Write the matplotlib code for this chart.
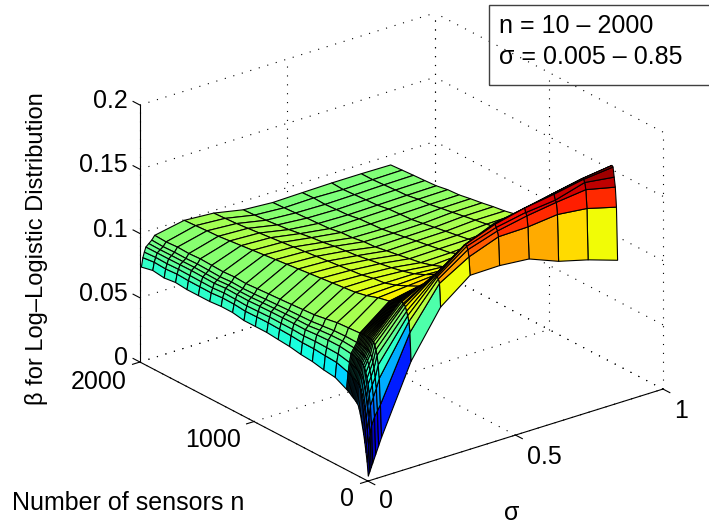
import numpy as np
import matplotlib
matplotlib.use("Agg")
import matplotlib.pyplot as plt
from mpl_toolkits.mplot3d import proj3d

plt.rcParams['font.family'] = ['Liberation Sans', 'DejaVu Sans']

sigma = [0.005, 0.01, 0.015, 0.02, 0.03, 0.04, 0.05, 0.15, 0.25, 0.35, 0.45, 0.55, 0.65, 0.75, 0.85]
n_vals = [10, 20, 30, 40, 50, 60, 70, 80, 90, 100, 110, 120, 130, 140, 150, 160, 170, 180, 190, 200,
          300, 400, 500, 600, 700, 800, 900, 1000, 1100, 1200, 1300, 1400, 1500, 1600, 1700, 1800, 1900, 2000]

# beta x 1000, one row per n, one column per sigma
beta = [
    [3, 6, 9, 12, 18, 24, 30, 82, 117, 134.6, 135, 133, 124, 118, 110.5],
    [13.5, 27, 34, 41, 47, 51, 55, 104, 135, 148.5, 157, 157.5, 160, 157.5, 151.4],
    [20.5, 38, 48, 56, 62, 68, 75, 112, 138, 153.6, 161, 165.6, 169, 171.7, 166.5],
    [27.5, 46, 56, 65, 71, 76, 85, 116, 139, 155.7, 163.2, 167.7, 170.2, 176.8, 173.8],
    [33.5, 52, 62, 72, 77, 83, 92, 119, 139, 156.7, 165.3, 170.7, 174.3, 178.8, 181.2],
    [38.5, 57, 67, 76, 81.5, 87, 96, 122, 139.1, 155.9, 165.4, 169.8, 174.4, 179, 182],
    [43.5, 61, 71, 80, 85, 90, 99, 123.5, 138.2, 154.1, 163.5, 167.9, 173.5, 178, 181],
    [48, 65, 74.5, 83, 88, 92.5, 101, 123.6, 137.3, 152.2, 160.6, 166, 171.6, 176.1, 179],
    [51.5, 67.5, 76.5, 84.5, 89, 93.5, 101.6, 124.7, 136.5, 149.4, 157.7, 163.1, 168.7, 173.2, 177],
    [54.4, 69.6, 78, 85.8, 90, 94.4, 102, 124.8, 134.6, 146.5, 153.8, 159.2, 165.8, 170.3, 174],
    [55.3, 70.3, 78.8, 86.3, 90.5, 94.7, 102.2, 124, 133, 143.7, 150.7, 156, 162.2, 166.6, 170],
    [56.2, 71, 79.3, 86.6, 90.8, 95, 102.3, 123.4, 131.6, 141.2, 148, 153.1, 159.1, 163.3, 166.7],
    [57, 71.5, 79.7, 87, 91.1, 95.2, 102.4, 122.7, 130.3, 139, 145.5, 150.5, 156.2, 160.3, 163.5],
    [57.7, 72, 80, 87.2, 91.2, 95.3, 102.4, 122.2, 129.1, 137.1, 143.4, 148.3, 153.8, 157.7, 160.8],
    [58.4, 72.5, 80.5, 87.5, 91.5, 95.5, 102.5, 121.7, 128.1, 135.3, 141.5, 146.3, 151.6, 155.4, 158.4],
    [59.2, 73, 80.9, 87.8, 91.7, 95.6, 102.5, 121.3, 127.2, 133.7, 139.8, 144.5, 149.6, 153.3, 156.2],
    [60, 73.6, 81.2, 88, 91.9, 95.7, 102.5, 120.9, 126.4, 132.3, 138.2, 142.8, 147.8, 151.4, 154.2],
    [60.6, 74, 81.5, 88.2, 92, 95.7, 102.4, 120.6, 125.7, 131.1, 136.9, 141.4, 146.3, 149.8, 152.5],
    [61.2, 74.4, 81.8, 88.4, 92.1, 95.8, 102.4, 120.3, 125.1, 130.1, 135.8, 140.2, 144.9, 148.4, 151],
    [61.7, 74.7, 82, 88.5, 92.2, 95.8, 102.3, 120, 124.5, 129, 134.6, 139, 143.6, 147, 149.6],
    [66.4, 77.7, 84, 89.7, 92.9, 96, 101.7, 118, 120, 122, 122.6, 126.1, 129.5, 132, 135],
    [67.6, 78.3, 84.3, 89.7, 92.7, 95.7, 101.1, 115, 116, 117, 116, 118.5, 120.9, 123.4, 125],
    [69.5, 79.1, 84.5, 89.3, 92, 94.7, 99.5, 113, 113, 113, 111.4, 112.9, 114.3, 116.8, 118.5],
    [70.3, 79.2, 84.1, 88.6, 91, 93.6, 98, 112, 112, 110.5, 107.9, 109.4, 109.8, 112.3, 114],
    [71.9, 80, 84.6, 88.7, 91, 93.3, 97.4, 111, 110, 108.5, 105.3, 105.8, 107.2, 108.7, 110],
    [72.7, 80.4, 84.7, 88.6, 90.8, 93, 96.8, 110, 109, 107, 103.7, 104.2, 104.6, 106.1, 107.6],
    [73.6, 80.8, 84.9, 88.5, 90.5, 92.6, 96.2, 109, 108, 105.5, 102.1, 102.6, 103, 104.5, 105],
    [73.6, 80.7, 84.6, 88.2, 90.2, 92.2, 95.7, 108, 107, 104, 100.6, 101.1, 101.5, 103, 103],
    [73.6, 80.5, 84.3, 87.8, 89.7, 91.7, 95.1, 107, 106, 103, 99, 99.5, 99.9, 101.4, 101.7],
    [75.2, 81.4, 84.8, 88, 89.7, 91.4, 94.5, 106, 105, 102, 98.4, 97.9, 98.3, 99.8, 100],
    [75.3, 81.6, 85.1, 88.3, 90, 91.8, 95, 105, 104, 100.5, 96.9, 96.4, 96.8, 98.3, 98.6],
    [74.5, 80.9, 84.4, 87.6, 89.4, 91.2, 94.4, 104, 103, 99.5, 96.3, 95.8, 96.2, 96.7, 97],
    [74.5, 81, 84.6, 87.9, 89.7, 91.6, 94.8, 103, 102, 98, 94.7, 95.2, 95.6, 96.1, 96.4],
    [74.5, 81.1, 84.8, 88.2, 90, 91.9, 95.2, 102, 101, 96.5, 94.1, 93.6, 94, 94.5, 94.8],
    [75.4, 81.6, 85, 88.1, 89.9, 91.6, 94.7, 101, 100, 95.5, 93.6, 93.1, 93.5, 94, 94.2],
    [74.3, 81, 84.7, 88, 89.9, 91.8, 95.1, 100.6, 99.1, 94.5, 93, 92.5, 92.9, 93.4, 93.7],
    [75.5, 81.6, 85, 88, 89.8, 91.5, 94.5, 100, 98.5, 93.9, 92.4, 92.9, 92.3, 92.8, 93.1],
    [73.5, 80.5, 84.5, 88, 90, 92, 95, 99.5, 98, 93.4, 91.9, 92.4, 92.8, 92.8, 92.5],
]

sigma_ticks = [0, 0.5, 1]
n_ticks = [0, 1000, 2000]
z_ticks = [0, 0.05, 0.1, 0.15, 0.2]
z_labels = ['0', '0.05', '0.1', '0.15', '0.2']

X, Y = np.meshgrid(sigma, n_vals)
Z = np.array(beta) / 1000

fig = plt.figure(figsize=(7.09, 5.25), dpi=100)
W, H = 709.0, 525.0
ax = fig.add_axes([42 / W, -81.5 / H, 700 / W, 700 / H], projection='3d')
ax.set_proj_type('ortho')
ax.view_init(elev=23.8, azim=-127.7)
ax.set_box_aspect((372.9, 372.9, 280.9), zoom=0.8286)
ax.set_xlim(0, 1)
ax.set_ylim(0, 2000)
ax.set_zlim(0, 0.2)
ax.set_axis_off()
ax.computed_zorder = False

dots = dict(color='k', lw=0.8, ls=(0, (1, 7)), zorder=1)
solid = dict(color='k', lw=0.8, zorder=3)

# dotted grid on the floor and the two back walls
for s in sigma_ticks:
    ax.plot([s, s], [0, 2000], [0, 0], **dots)
    ax.plot([s, s], [2000, 2000], [0, 0.2], **dots)
for v in n_ticks:
    ax.plot([0, 1], [v, v], [0, 0], **dots)
    ax.plot([1, 1], [v, v], [0, 0.2], **dots)
for z in z_ticks:
    ax.plot([0, 1], [2000, 2000], [z, z], **dots)
    ax.plot([1, 1], [0, 2000], [z, z], **dots)

norm = plt.Normalize(0.002, 0.182)
colors = plt.cm.jet(norm(Z))
ax.plot_surface(X, Y, Z, facecolors=colors, rstride=1, cstride=1, shade=False,
                edgecolor='k', linewidth=0.8, zorder=2)

# axis lines and ticks
ax.plot([0, 1], [0, 0], [0, 0], **solid)
ax.plot([0, 0], [0, 2000], [0, 0], **solid)
ax.plot([0, 0], [2000, 2000], [0, 0.2], **solid)
for s in sigma_ticks:
    ax.plot([s, s], [0, -60], [0, 0], **solid)
for v in n_ticks:
    ax.plot([0, -0.025], [v, v], [0, 0], **solid)
for z in z_ticks:
    ax.plot([0, 0], [2000, 2060], [z, z], **solid)


def tick_text(label, x, y, z, dx, dy, ha='center'):
    M = ax.get_proj()
    px, py, _ = proj3d.proj_transform(x, y, z, M)
    ax.annotate(label, xy=(px, py), xycoords='data', xytext=(dx, dy), textcoords='offset pixels',
                ha=ha, va='center', fontsize=18, annotation_clip=False)


for z, lab in zip(z_ticks, z_labels):
    tick_text(lab, 0, 2000, z, -12, 4, ha='right')
tick_text('0', 0, 0, 0, -21, -18)
tick_text('1000', 0, 1000, 0, -41, -18.5)
tick_text('2000', 0, 2000, 0, -41, -20)
tick_text('0', 0, 0, 0, 18, -20)
tick_text('0.5', 0.5, 0, 0, 29, -22)
tick_text('1', 1, 0, 0, 18, -22)

fig.text(12 / W, 1 - 503 / H, 'Number of sensors n', fontsize=18, ha='left', va='center')
fig.text(512 / W, 1 - 513 / H, 'σ', fontsize=18, ha='center', va='center')
fig.text(37 / W, 1 - 405 / H, 'β for Log–Logistic Distribution', fontsize=17, rotation=90,
         ha='center', va='bottom')

fig.patches.append(plt.Rectangle((489 / W, 1 - 85 / H), 240 / W, 80 / H, transform=fig.transFigure,
                                 fc='none', ec='#404040', lw=1.0, zorder=5))
fig.text(499 / W, 1 - 26 / H, 'n = 10 – 2000', fontsize=18, ha='left', va='center', zorder=6)
fig.text(499 / W, 1 - 57 / H, 'σ = 0.005 – 0.85', fontsize=18, ha='left', va='center', zorder=6)

fig.savefig('out.png', dpi=100)
